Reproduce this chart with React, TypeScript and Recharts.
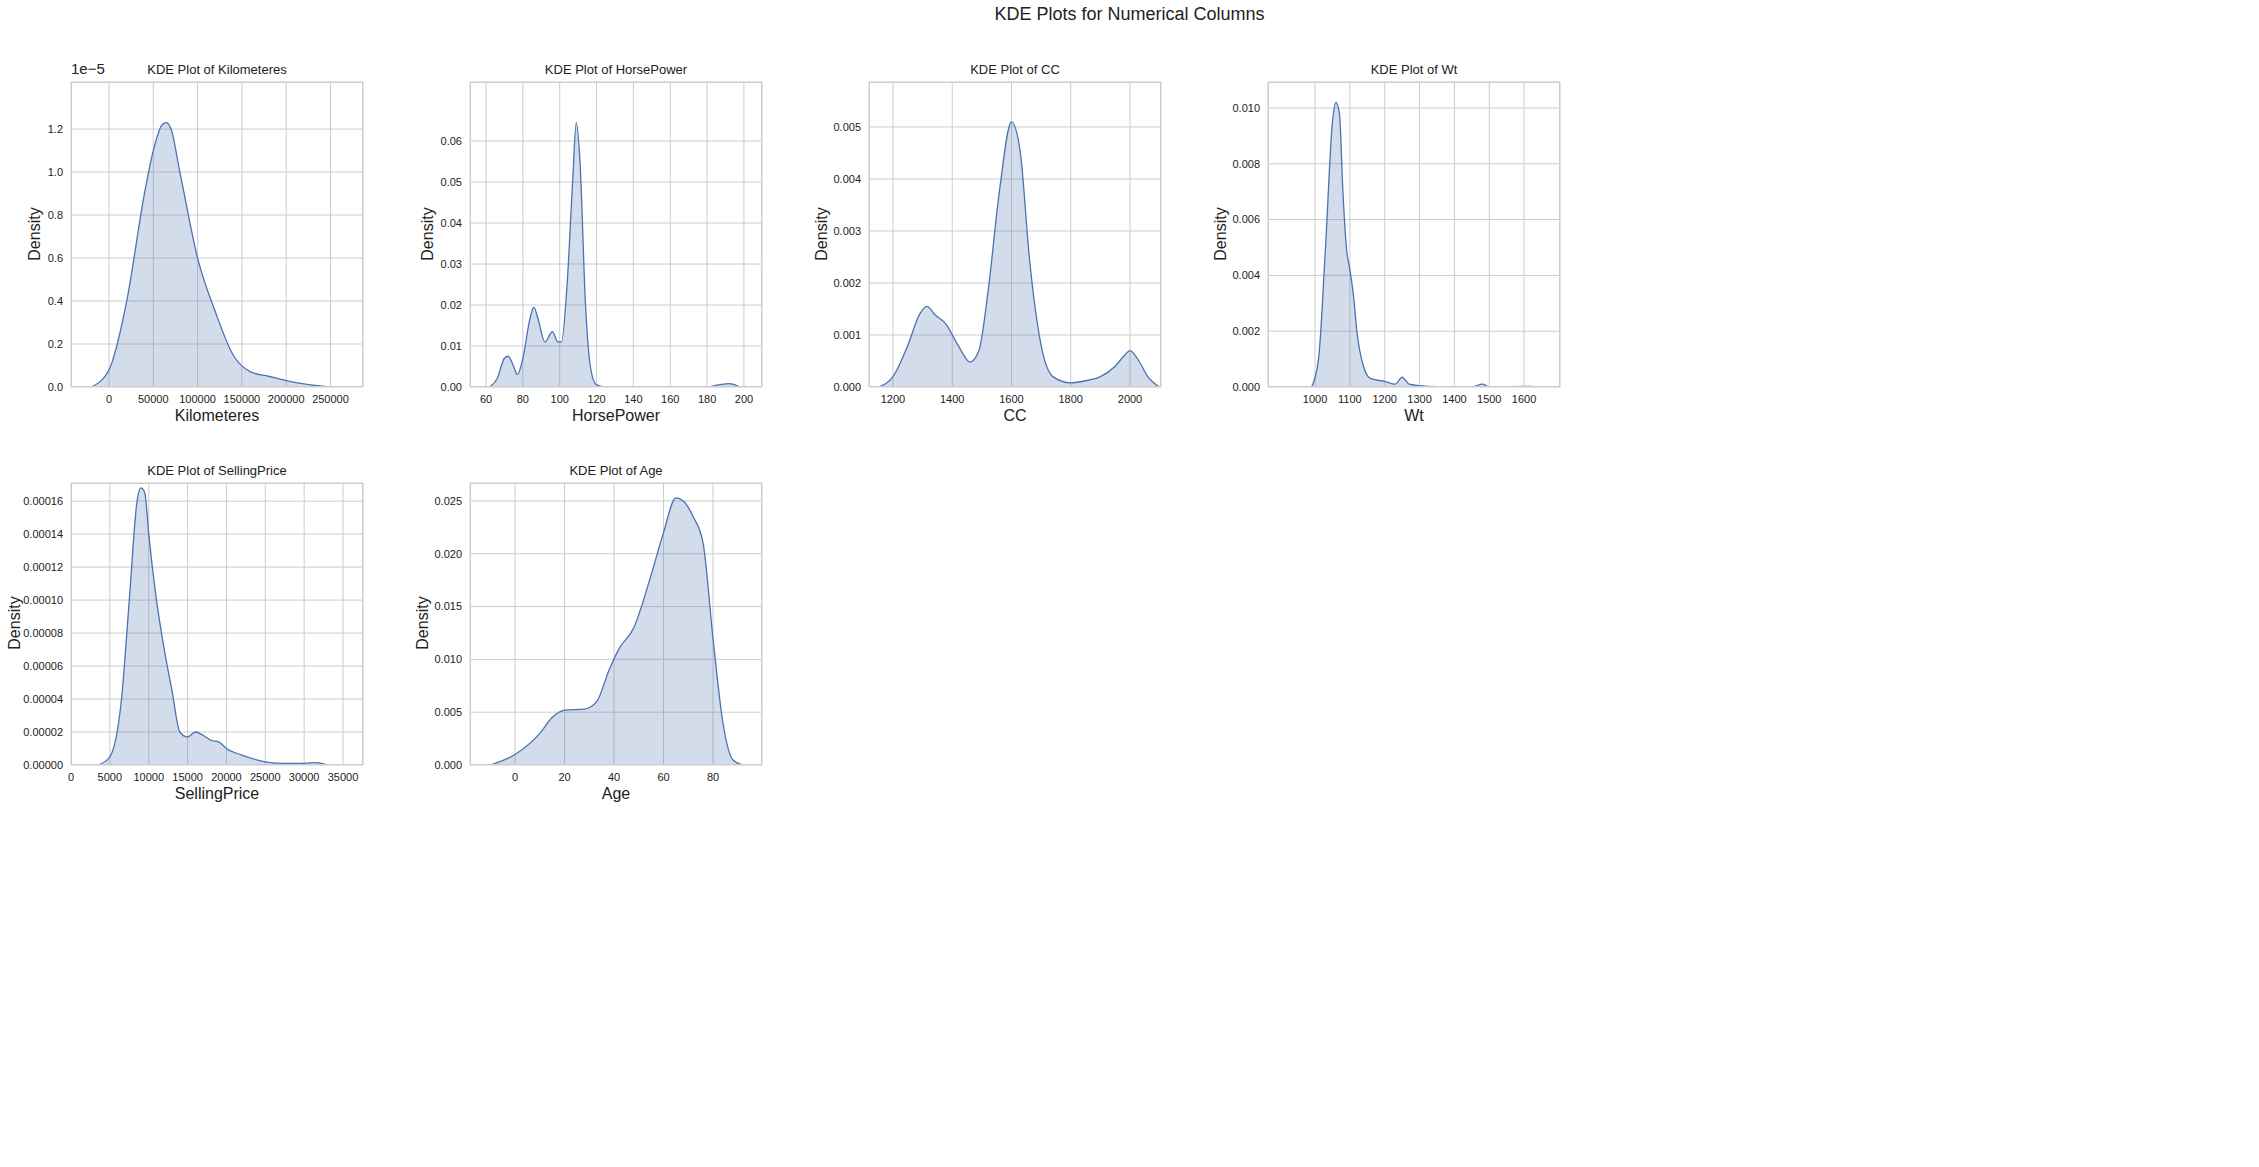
import { AreaChart, Area, XAxis, YAxis, CartesianGrid } from "recharts"

const kmData = [
  { x: -20000, y: 0 }, { x: 0, y: 0.08 }, { x: 20000, y: 0.4 }, { x: 40000, y: 0.9 },
  { x: 50000, y: 1.1 }, { x: 60000, y: 1.22 }, { x: 65000, y: 1.23 }, { x: 70000, y: 1.2 },
  { x: 80000, y: 1.0 }, { x: 100000, y: 0.6 }, { x: 120000, y: 0.35 }, { x: 140000, y: 0.15 },
  { x: 160000, y: 0.07 }, { x: 180000, y: 0.05 }, { x: 200000, y: 0.03 }, { x: 220000, y: 0.015 },
  { x: 250000, y: 0 },
]
const hpData = [
  { x: 62, y: 0 }, { x: 66, y: 0.002 }, { x: 70, y: 0.007 }, { x: 72, y: 0.0075 }, { x: 75, y: 0.005 },
  { x: 77, y: 0.003 }, { x: 80, y: 0.007 }, { x: 84, y: 0.017 }, { x: 86, y: 0.0195 }, { x: 88, y: 0.017 },
  { x: 92, y: 0.011 }, { x: 96, y: 0.0135 }, { x: 99, y: 0.011 }, { x: 101, y: 0.011 }, { x: 104, y: 0.025 },
  { x: 107, y: 0.05 }, { x: 109, y: 0.0645 }, { x: 111, y: 0.055 }, { x: 114, y: 0.02 }, { x: 117, y: 0.004 },
  { x: 120, y: 0.0005 }, { x: 125, y: 0 }, { x: 180, y: 0 }, { x: 186, y: 0.0005 }, { x: 192, y: 0.0008 },
  { x: 198, y: 0 },
]
const ccData = [
  { x: 1150, y: 0 }, { x: 1200, y: 0.0002 }, { x: 1250, y: 0.0008 }, { x: 1290, y: 0.0014 },
  { x: 1315, y: 0.00155 }, { x: 1340, y: 0.0014 }, { x: 1380, y: 0.0012 }, { x: 1420, y: 0.0008 },
  { x: 1460, y: 0.00048 }, { x: 1490, y: 0.0007 }, { x: 1520, y: 0.0018 }, { x: 1560, y: 0.0038 },
  { x: 1600, y: 0.0051 }, { x: 1630, y: 0.0045 }, { x: 1660, y: 0.0025 }, { x: 1700, y: 0.0008 },
  { x: 1740, y: 0.0002 }, { x: 1800, y: 0.00008 }, { x: 1850, y: 0.00012 }, { x: 1900, y: 0.0002 },
  { x: 1950, y: 0.0004 }, { x: 1980, y: 0.0006 }, { x: 2000, y: 0.0007 }, { x: 2030, y: 0.0005 },
  { x: 2060, y: 0.0002 }, { x: 2100, y: 0 },
]
const wtData = [
  { x: 990, y: 0 }, { x: 1010, y: 0.001 }, { x: 1030, y: 0.005 }, { x: 1050, y: 0.0095 },
  { x: 1060, y: 0.0102 }, { x: 1070, y: 0.0098 }, { x: 1080, y: 0.007 }, { x: 1090, y: 0.005 },
  { x: 1100, y: 0.0042 }, { x: 1110, y: 0.0033 }, { x: 1120, y: 0.002 }, { x: 1140, y: 0.0007 },
  { x: 1160, y: 0.0003 }, { x: 1200, y: 0.0002 }, { x: 1230, y: 0.0001 }, { x: 1250, y: 0.00035 },
  { x: 1270, y: 0.0001 }, { x: 1300, y: 0.00005 }, { x: 1350, y: 0.00001 }, { x: 1450, y: 0 },
  { x: 1480, y: 0.0001 }, { x: 1500, y: 0 }, { x: 1620, y: 0.00002 }, { x: 1640, y: 0 },
]
const priceData = [
  { x: 3500, y: 0 }, { x: 5000, y: 0.000005 }, { x: 6500, y: 0.00004 }, { x: 7500, y: 0.0001 },
  { x: 8500, y: 0.00016 }, { x: 9000, y: 0.000168 }, { x: 9500, y: 0.000165 }, { x: 10000, y: 0.00014 },
  { x: 11000, y: 0.0001 }, { x: 12000, y: 0.00007 }, { x: 13000, y: 0.000045 }, { x: 14000, y: 0.00002 },
  { x: 15000, y: 0.000017 }, { x: 16000, y: 0.00002 }, { x: 17000, y: 0.000018 }, { x: 18000, y: 0.000015 },
  { x: 19000, y: 0.000014 }, { x: 20000, y: 0.00001 }, { x: 22000, y: 0.000006 }, { x: 24000, y: 0.000003 },
  { x: 27000, y: 0.000001 }, { x: 30000, y: 0.000001 }, { x: 31500, y: 0.0000015 }, { x: 33000, y: 0 },
]
const ageData = [
  { x: -10, y: 0 }, { x: 0, y: 0.001 }, { x: 10, y: 0.003 }, { x: 15, y: 0.0045 }, { x: 20, y: 0.0052 },
  { x: 28, y: 0.0053 }, { x: 33, y: 0.006 }, { x: 38, y: 0.009 }, { x: 42, y: 0.011 }, { x: 48, y: 0.013 },
  { x: 55, y: 0.018 }, { x: 60, y: 0.022 }, { x: 65, y: 0.0253 }, { x: 68, y: 0.025 }, { x: 72, y: 0.0235 },
  { x: 76, y: 0.021 }, { x: 80, y: 0.012 }, { x: 84, y: 0.004 }, { x: 88, y: 0.0005 }, { x: 92, y: 0 },
]

const kmXTicks = [0, 50000, 100000, 150000, 200000, 250000]
const kmYTicks = [0, 0.2, 0.4, 0.6, 0.8, 1.0, 1.2]
const hpXTicks = [60, 80, 100, 120, 140, 160, 180, 200]
const hpYTicks = [0, 0.01, 0.02, 0.03, 0.04, 0.05, 0.06]
const ccXTicks = [1200, 1400, 1600, 1800, 2000]
const ccYTicks = [0, 0.001, 0.002, 0.003, 0.004, 0.005]
const wtXTicks = [1000, 1100, 1200, 1300, 1400, 1500, 1600]
const wtYTicks = [0, 0.002, 0.004, 0.006, 0.008, 0.01]
const priceXTicks = [0, 5000, 10000, 15000, 20000, 25000, 30000, 35000]
const priceYTicks = [0, 0.00002, 0.00004, 0.00006, 0.00008, 0.0001, 0.00012, 0.00014, 0.00016]
const ageXTicks = [0, 20, 40, 60, 80]
const ageYTicks = [0, 0.005, 0.01, 0.015, 0.02, 0.025]

const FONT = "'Liberation Sans', Arial, sans-serif"
const BLUE = "#4c72b0"

interface PanelProps {
  name: string
  data: { x: number; y: number }[]
  px: number; py: number; pw: number; ph: number
  xDomain: [number, number]; yDomain: [number, number]
  xTicks: number[]; yTicks: number[]
  yDigits: number
  yLabelOffset: number
  offsetText?: string
}

function Panel(p: PanelProps) {
  const ML = 80
  const tick = { fontSize: 11, fill: "#222", fontFamily: FONT }
  return (
    <>
      <div style={{ position: "absolute", left: p.px - ML, top: p.py - 10 }}>
        <AreaChart width={p.pw + ML + 10} height={p.ph + 50} data={p.data}
          margin={{ top: 10, right: 10, bottom: 0, left: 10 }}>
          <CartesianGrid stroke="#cccccc" />
          <XAxis dataKey="x" type="number" domain={p.xDomain} ticks={p.xTicks} allowDataOverflow
            tickLine={false} axisLine={false} height={40} tick={tick} interval={0} />
          <YAxis type="number" domain={p.yDomain} ticks={p.yTicks} allowDataOverflow width={ML - 10}
            tickLine={false} axisLine={false} tick={tick} interval={0}
            tickFormatter={(v: number) => v.toFixed(p.yDigits)} />
          <Area type="monotone" dataKey="y" stroke={BLUE} strokeWidth={1.3} fill={BLUE} fillOpacity={0.25}
            isAnimationActive={false} dot={false} />
        </AreaChart>
      </div>
      <div style={{ position: "absolute", left: p.px, top: p.py, width: p.pw, height: p.ph,
        border: "1.3px solid #cccccc", boxSizing: "border-box", pointerEvents: "none" }} />
      <div style={{ position: "absolute", left: p.px, width: p.pw, top: p.py - 20, textAlign: "center",
        fontSize: 13, fontFamily: FONT, color: "#222" }}>KDE Plot of {p.name}</div>
      <div style={{ position: "absolute", left: p.px, width: p.pw, top: p.py + p.ph + 20, textAlign: "center",
        fontSize: 16, fontFamily: FONT, color: "#222" }}>{p.name}</div>
      <div style={{ position: "absolute", left: p.px + p.yLabelOffset, top: p.py + p.ph / 2 - 10, width: 0, height: 20,
        fontSize: 16, fontFamily: FONT, color: "#222" }}>
        <div style={{ position: "absolute", left: 0, top: 0, transform: "translate(-50%,0) rotate(-90deg)",
          whiteSpace: "nowrap" }}>Density</div>
      </div>
      {p.offsetText && (
        <div style={{ position: "absolute", left: p.px, top: p.py - 22, fontSize: 15, fontFamily: FONT, color: "#222" }}>
          {p.offsetText}
        </div>
      )}
    </>
  )
}

export default function App() {
  return (
    <div style={{ position: "absolute", left: 0, top: 0, width: 2259, height: 1167, background: "#fff" }}>
      <div style={{ position: "absolute", left: 0, width: 2259, top: 4, textAlign: "center", fontSize: 18,
        fontFamily: FONT, color: "#222" }}>KDE Plots for Numerical Columns</div>
      <Panel name="Kilometeres" data={kmData} px={71} py={82} pw={292} ph={305} yLabelOffset={-36}
        xDomain={[-42900, 286700]} yDomain={[0, 1.419]} xTicks={kmXTicks} yTicks={kmYTicks} yDigits={1} offsetText="1e−5" />
      <Panel name="HorsePower" data={hpData} px={470} py={82} pw={292} ph={305} yLabelOffset={-42}
        xDomain={[51.3, 209.8]} yDomain={[0, 0.0744]} xTicks={hpXTicks} yTicks={hpYTicks} yDigits={2} />
      <Panel name="CC" data={ccData} px={869} py={82} pw={292} ph={305} yLabelOffset={-47}
        xDomain={[1119, 2104.6]} yDomain={[0, 0.005865]} xTicks={ccXTicks} yTicks={ccYTicks} yDigits={3} />
      <Panel name="Wt" data={wtData} px={1268} py={82} pw={292} ph={305} yLabelOffset={-47}
        xDomain={[865, 1703]} yDomain={[0, 0.01093]} xTicks={wtXTicks} yTicks={wtYTicks} yDigits={3} />
      <Panel name="SellingPrice" data={priceData} px={71} py={483} pw={292} ph={282} yLabelOffset={-56}
        xDomain={[0, 37570]} yDomain={[0, 0.000171]} xTicks={priceXTicks} yTicks={priceYTicks} yDigits={5} />
      <Panel name="Age" data={ageData} px={470} py={483} pw={292} ph={282} yLabelOffset={-47}
        xDomain={[-18.2, 99.8]} yDomain={[0, 0.0267]} xTicks={ageXTicks} yTicks={ageYTicks} yDigits={3} />
    </div>
  )
}
